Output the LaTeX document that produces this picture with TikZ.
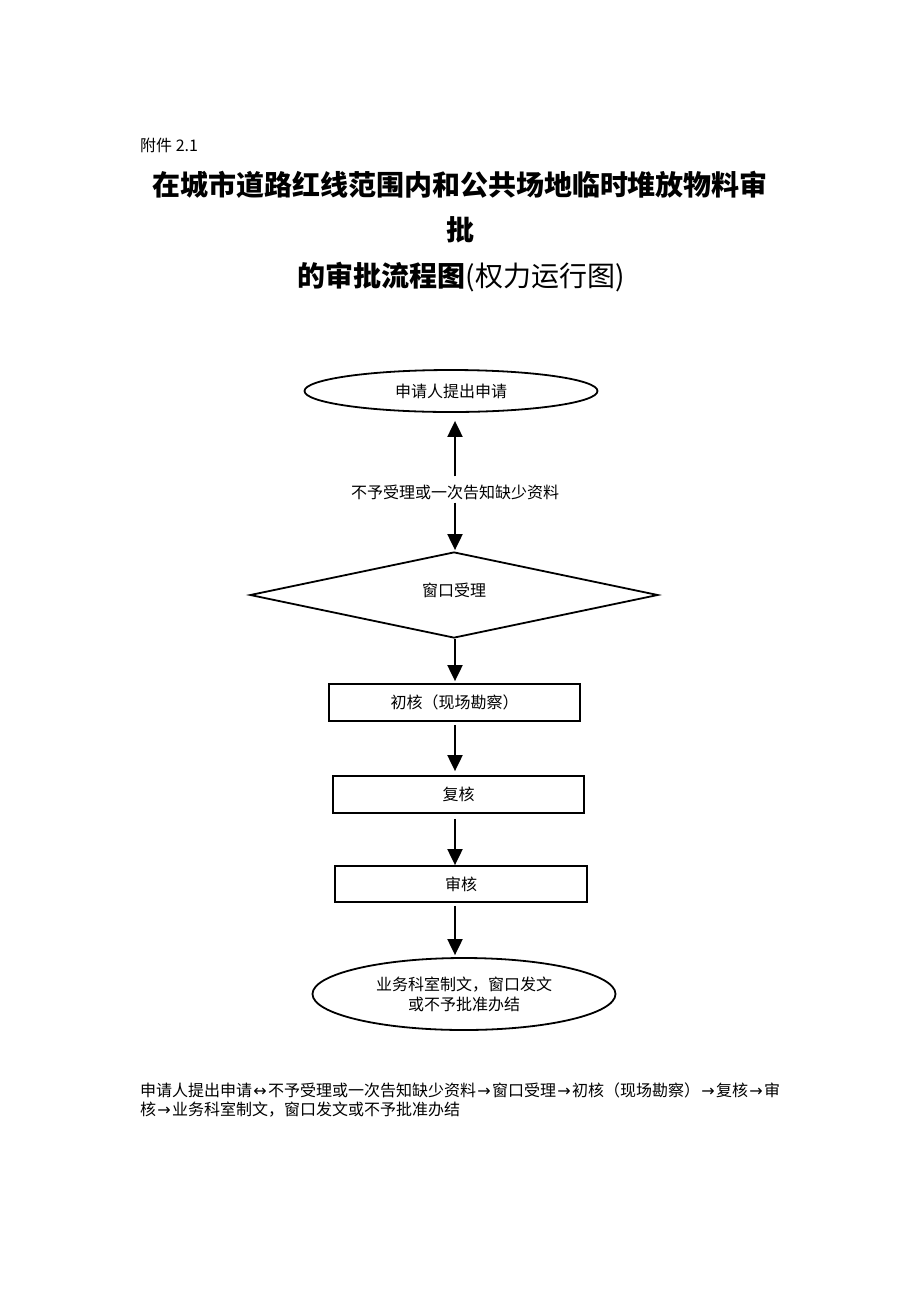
\documentclass[tikz,border=0pt]{standalone}
\usepackage{fontspec}
\setmainfont{Noto Sans CJK SC}
\newfontfamily\arr{DejaVu Sans}
\usetikzlibrary{shapes.geometric,arrows.meta}
\tikzset{
  body/.style={font=\fontsize{16}{20}\selectfont},
  titlefont/.style={font=\fontsize{28}{34}\selectfont\bfseries},
  outline/.style={draw=black,line width=1.8pt,inner sep=0pt,body},
  ovalbox/.style={outline,ellipse},
  stepbox/.style={outline,rectangle,minimum width=251pt,minimum height=37pt},
  flow/.style={line width=2pt,-{Triangle[width=15pt,length=16pt]}}
}
\newcommand{\ar}[1]{\makebox[16pt]{\arr #1}}
\begin{document}
\begin{tikzpicture}[x=1pt,y=-1pt]
\useasboundingbox[fill=white] (0,0) rectangle (920,1302);
\node[body,anchor=west,inner sep=0pt] (fj) at (140,145) {附件 2.1};
\node[titlefont,inner sep=0pt] (t1) at (460,185) {在城市道路红线范围内和公共场地临时堆放物料审};
\node[titlefont,inner sep=0pt] (t2) at (460,230) {批};
\node[inner sep=0pt] (t3) at (461,277) {\fontsize{28}{34}\selectfont{\bfseries 的审批流程图}(权力运行图)};

\node[ovalbox,minimum width=293pt,minimum height=42pt] (e1) at (451,391) {申请人提出申请};
\node[body,inner sep=0pt] (lab) at (455,492) {不予受理或一次告知缺少资料};
\node[outline,diamond,aspect=4.74,minimum width=408pt,minimum height=86pt] (d) at (454,595) {\raisebox{10pt}{窗口受理}};
\node[stepbox] (b1) at (454.5,702.5) {初核（现场勘察）};
\node[stepbox] (b2) at (458.5,794.5) {复核};
\node[stepbox,minimum width=252pt,minimum height=36pt] (b3) at (461,884) {审核};
\node[ovalbox,minimum width=303pt,minimum height=72pt,align=center] (e2) at (464,994) {业务科室制文，窗口发文\\或不予批准办结};

\draw[flow,shorten <=8pt,shorten >=8pt] (lab.north) -- (e1.south -| lab);
\draw[flow,shorten <=3pt,shorten >=1pt] (lab.south) -- (d.north -| lab);
\draw[flow,shorten >=2pt] (d.south -| lab) -- (b1.north -| lab);
\draw[flow,shorten <=3pt,shorten >=4pt] (b1.south -| lab) -- (b2.north -| lab);
\draw[flow,shorten <=5pt] (b2.south -| lab) -- (b3.north -| lab);
\draw[flow,shorten <=3pt,shorten >=2pt] (b3.south -| lab) -- (e2.north -| lab);

\node[body,anchor=west,inner sep=0pt] (p1) at (140,1090) {申请人提出申请\ar{↔}不予受理或一次告知缺少资料\ar{→}窗口受理\ar{→}初核（现场勘察）\ar{→}复核\ar{→}审};
\node[body,anchor=west,inner sep=0pt] (p2) at (140,1110) {核\ar{→}业务科室制文，窗口发文或不予批准办结};
\end{tikzpicture}
\end{document}
